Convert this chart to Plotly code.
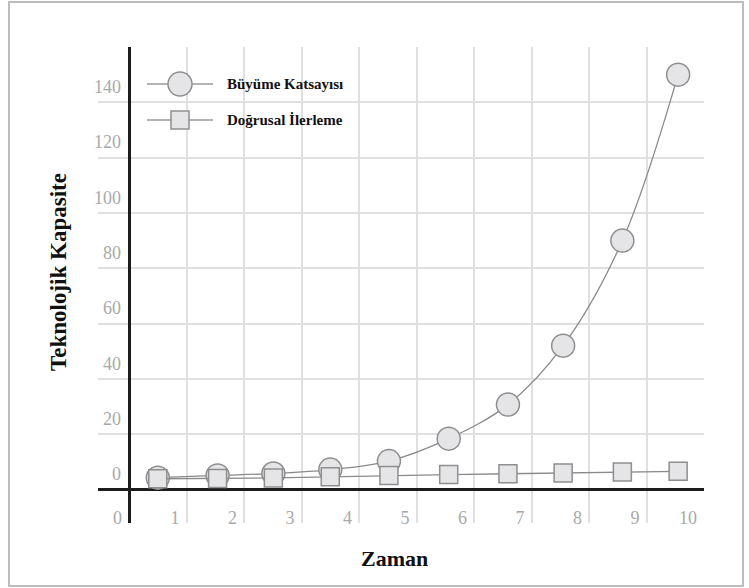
import plotly.graph_objects as go

# ---------------- data ----------------
zaman = [0.5, 1.54, 2.51, 3.5, 4.52, 5.56, 6.59, 7.55, 8.58, 9.55]
buyume_katsayisi = [4.3, 5.1, 5.8, 7.2, 10.3, 18.4, 30.7, 52.0, 90.0, 150.0]
dogrusal_ilerleme = [3.9, 4.0, 4.2, 4.6, 5.1, 5.4, 5.7, 6.0, 6.3, 6.6]

x_tick_vals = list(range(0, 11))
x_tick_text = [str(v) for v in x_tick_vals]
y_tick_vals = list(range(0, 161, 20))
y_tick_text = [str(v) if v < 160 else "" for v in y_tick_vals]

series_names = ["Büyüme Katsayısı", "Doğrusal İlerleme"]
x_title = "Zaman"
y_title = "Teknolojik Kapasite"

# ---------------- style ----------------
FONT = "Liberation Serif, Times New Roman, serif"
FILL = "#e5e5e7"
EDGE = "#8e8e8e"
LINE = "#8a8a8a"
GRID = "#e0e0e0"
TICK = "#a9a9a9"

W, H = 749, 588
ML, MR, MT, MB = 98, 45, 47, 65
PW, PH = W - ML - MR, H - MT - MB


def px_x(p):
    return (p - ML) / PW


def px_y(p):
    return (H - MB - p) / PH


fig = go.Figure()

fig.add_trace(go.Scatter(
    x=zaman, y=buyume_katsayisi, name=series_names[0],
    mode="lines+markers",
    line=dict(color=LINE, width=1.3, shape="spline", smoothing=1.0),
    marker=dict(symbol="circle", size=23, color=FILL,
                line=dict(color=EDGE, width=1.5)),
    showlegend=False,
))
fig.add_trace(go.Scatter(
    x=zaman, y=dogrusal_ilerleme, name=series_names[1],
    mode="lines+markers",
    line=dict(color=LINE, width=1.3),
    marker=dict(symbol="square", size=18, color=FILL,
                line=dict(color=EDGE, width=1.5)),
    showlegend=False,
))

shapes = []
annotations = []

# custom legend (large glyphs as in the reference)
legend_rows = [(84, "circle", 12), (120, "rect", 9)]
for (py, kind, r), name in zip(legend_rows, series_names):
    cx = px_x(180)
    cy = px_y(py)
    shapes.append(dict(type="line", xref="paper", yref="paper",
                       xsizemode="pixel", xanchor=cx, x0=-33, x1=33,
                       y0=cy, y1=cy,
                       line=dict(color="#9a9a9a", width=1.3), layer="above"))
    shapes.append(dict(type=kind, xref="paper", yref="paper",
                       xsizemode="pixel", ysizemode="pixel",
                       xanchor=cx, yanchor=cy, x0=-r, x1=r, y0=-r, y1=r,
                       fillcolor=FILL, line=dict(color=EDGE, width=1.5),
                       layer="above"))
    annotations.append(dict(text="<b>" + name + "</b>", xref="paper", yref="paper",
                            x=px_x(225), y=cy, xanchor="left", yanchor="middle",
                            showarrow=False,
                            font=dict(family=FONT, size=15, color="#111111")))

# axis titles
annotations.append(dict(text="<b>" + x_title + "</b>", xref="paper", yref="paper",
                        x=px_x(394), y=px_y(558), xanchor="center", yanchor="middle",
                        showarrow=False, font=dict(family=FONT, size=22, color="#111111")))
annotations.append(dict(text="<b>" + y_title + "</b>", xref="paper", yref="paper",
                        x=px_x(58), y=px_y(272), xanchor="center", yanchor="middle",
                        textangle=-90, showarrow=False,
                        font=dict(family=FONT, size=23, color="#111111")))

# outer frame
shapes.append(dict(type="rect", xref="paper", yref="paper",
                   x0=px_x(9), x1=px_x(743), y0=px_y(586), y1=px_y(2),
                   line=dict(color="#bdbdbd", width=2), layer="below"))

fig.update_layout(
    width=W, height=H,
    margin=dict(l=ML, r=MR, t=MT, b=MB, pad=0),
    paper_bgcolor="white", plot_bgcolor="white",
    font=dict(family=FONT, size=18, color=TICK),
    shapes=shapes, annotations=annotations,
    showlegend=False,
)

fig.update_xaxes(
    range=[-0.54, 10.0], tickmode="array", tickvals=x_tick_vals, ticktext=x_tick_text,
    showgrid=True, gridcolor=GRID, gridwidth=1.5,
    zeroline=True, zerolinecolor="#1c1c1c", zerolinewidth=3,
    showline=False, ticks="",
    ticklabelposition="inside left", ticklabelstandoff=-11, ticklabelshift=-7,
    tickfont=dict(family=FONT, size=18, color=TICK),
)
fig.update_yaxes(
    range=[-12.1, 160.0], tickmode="array", tickvals=y_tick_vals, ticktext=y_tick_text,
    showgrid=True, gridcolor=GRID, gridwidth=1.5,
    zeroline=True, zerolinecolor="#1c1c1c", zerolinewidth=3,
    showline=False, ticks="",
    ticklabelposition="outside top", ticklabelstandoff=-24, ticklabelshift=-3,
    tickfont=dict(family=FONT, size=18, color=TICK),
)

fig.write_html("out.html", config={"displayModeBar": False},
               post_script="document.body.style.margin='0px';")
